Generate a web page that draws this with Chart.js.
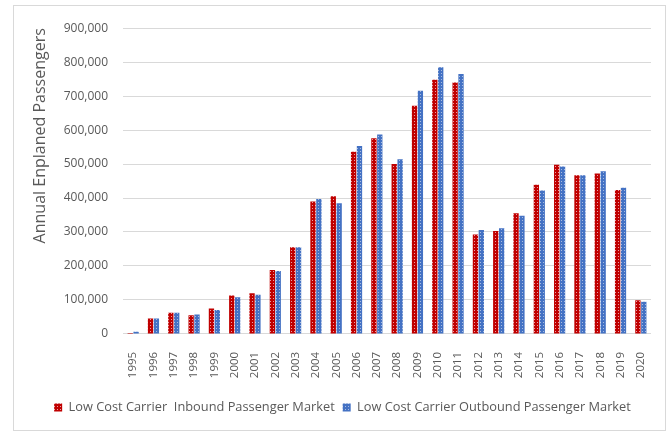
<!DOCTYPE html>
<html>
<head>
<meta charset="utf-8">
<script src="https://cdn.jsdelivr.net/npm/chart.js@4/dist/chart.umd.min.js"></script>
<style>
    body { margin: 0; background: #fff; }
    #wrap {
        position: absolute;
        left: 13px;
        top: 5px;
        width: 651px;
        height: 424px;
        border: 1px solid #d9d9d9;
    }
</style>
</head>
<body>
<div id="wrap"><canvas id="chart" width="651" height="424"></canvas></div>
<script>
// Data
const years = ['1995', '1996', '1997', '1998', '1999', '2000', '2001', '2002', '2003', '2004',
    '2005', '2006', '2007', '2008', '2009', '2010', '2011', '2012', '2013', '2014',
    '2015', '2016', '2017', '2018', '2019', '2020'];
const inbound = [3000, 45000, 62000, 55000, 75000, 113000, 120000, 188000, 255000, 390000,
    405000, 536000, 576000, 500000, 672000, 748000, 740000, 293000, 303000, 355000,
    439000, 498000, 467000, 472000, 424000, 99000];
const outbound = [6000, 45000, 62000, 57000, 70000, 108000, 115000, 185000, 255000, 397000,
    385000, 553000, 587000, 514000, 716000, 785000, 765000, 306000, 311000, 348000,
    422000, 493000, 467000, 479000, 430000, 95000];
const yTicks = [0, 100000, 200000, 300000, 400000, 500000, 600000, 700000, 800000, 900000];

// Dotted fill like the Excel pattern
function dotted(color, dot) {
    const c = document.createElement('canvas');
    c.width = 3;
    c.height = 3;
    const g = c.getContext('2d');
    g.fillStyle = color;
    g.fillRect(0, 0, 3, 3);
    g.fillStyle = dot;
    g.fillRect(1, 1, 1, 1);
    return g.createPattern(c, 'repeat');
}

const grey = '#595959';

// Y axis title, ending level with the top gridline (Excel style)
const yTitle = {
    id: 'yTitle',
    afterDraw(chart) {
        const g = chart.ctx;
        g.save();
        g.translate(26, chart.chartArea.top);
        g.rotate(-Math.PI / 2);
        g.font = '16px "Open Sans"';
        g.fillStyle = grey;
        g.textAlign = 'right';
        g.textBaseline = 'middle';
        g.fillText('Annual Enplaned Passengers', 0, 0);
        g.restore();
    }
};

const ctx = document.getElementById('chart').getContext('2d');

new Chart(ctx, {
    type: 'bar',
    data: {
        labels: years,
        datasets: [{
            label: 'Low Cost Carrier  Inbound Passenger Market',
            data: inbound,
            backgroundColor: dotted('#c00000', '#e8a0a8'),
            categoryPercentage: 0.58,
            barPercentage: 0.9
        }, {
            label: 'Low Cost Carrier Outbound Passenger Market',
            data: outbound,
            backgroundColor: dotted('#4472c4', '#a8bce0'),
            categoryPercentage: 0.58,
            barPercentage: 0.9
        }]
    },
    plugins: [yTitle],
    options: {
        responsive: false,
        animation: false,
        layout: { padding: { top: 14, right: 14, left: 20, bottom: 6 } },
        scales: {
            y: {
                min: 0,
                max: 900000,
                afterBuildTicks: scale => {
                    scale.ticks = yTicks.map(v => ({ value: v }));
                },
                afterFit: scale => { scale.width = 89; },
                border: { display: false },
                grid: { color: '#d9d9d9', drawTicks: false },
                ticks: {
                    color: grey,
                    padding: 15,
                    font: { family: 'Open Sans', size: 12 },
                    callback: v => v.toLocaleString('en-US')
                }
            },
            x: {
                border: { display: false },
                grid: { display: false },
                afterFit: scale => { scale.height += 5; },
                ticks: {
                    color: grey,
                    minRotation: 90,
                    maxRotation: 90,
                    padding: 10,
                    autoSkip: false,
                    font: { family: 'Open Sans', size: 11.5 }
                }
            }
        },
        plugins: {
            legend: {
                position: 'bottom',
                labels: {
                    color: grey,
                    boxWidth: 8,
                    boxHeight: 8,
                    padding: 8,
                    font: { family: 'Open Sans', size: 12.8 }
                }
            },
            tooltip: { enabled: false }
        }
    }
});
</script>
</body>
</html>
